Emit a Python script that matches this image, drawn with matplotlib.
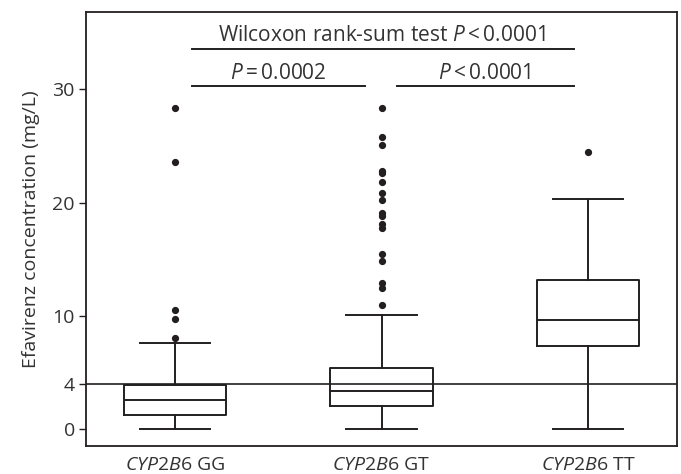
import matplotlib
matplotlib.use("Agg")
import matplotlib.pyplot as plt

plt.rcParams['font.family'] = ['Open Sans', 'DejaVu Sans']
plt.rcParams['mathtext.fontset'] = 'custom'
plt.rcParams['mathtext.rm'] = 'Open Sans'
plt.rcParams['mathtext.it'] = 'Open Sans:italic'

# Data (mg/L)
groups = ['GG', 'GT', 'TT']
q1 = [1.3, 2.07, 7.37]
medians = [2.6, 3.4, 9.6]
q3 = [3.95, 5.4, 13.2]
whis_lo = [0.0, 0.0, 0.05]
whis_hi = [7.57, 10.1, 20.35]
fliers_gg = [28.3, 23.6, 10.55, 9.7, 8.07]
fliers_gt = [28.3, 25.8, 25.1, 22.8, 22.6, 21.8, 20.8, 20.2, 19.1, 18.8,
             18.1, 17.75, 15.5, 14.8, 12.9, 12.5, 11.0]
fliers_tt = [24.45]
fliers = [fliers_gg, fliers_gt, fliers_tt]
threshold = 4
yticks = [0, 4, 10, 20, 30]

ink = '#231f20'
txt = '#333333'

fig = plt.figure(figsize=(6.81, 4.74), dpi=100)
ax = fig.add_axes([86/681, 28/474, 591/681, 434/474])

stats = []
for i, g in enumerate(groups):
    stats.append(dict(med=medians[i], q1=q1[i], q3=q3[i],
                      whislo=whis_lo[i], whishi=whis_hi[i],
                      fliers=fliers[i], label=g))

lw = 1.4
ax.axhline(threshold, color=ink, lw=1.2, zorder=1)
ax.bxp(stats, positions=[0, 1, 2], widths=0.495, capwidths=0.34,
       boxprops=dict(color=ink, lw=lw),
       medianprops=dict(color=ink, lw=lw),
       whiskerprops=dict(color=ink, lw=lw),
       capprops=dict(color=ink, lw=lw),
       flierprops=dict(marker='o', markerfacecolor=ink, markeredgecolor=ink,
                       markersize=4.2, linestyle='none'),
       zorder=2)

ax.set_xlim(-0.43, 2.43)
ax.set_ylim(-1.47, 36.8)
ax.set_yticks(yticks)
ax.set_yticklabels([str(t) for t in yticks], fontsize=14, color=txt)
ax.set_xticks([0, 1, 2])
ax.set_xticklabels([r'$\it{CYP2B6}$ ' + g for g in groups], fontsize=14, color=txt)
ax.tick_params(axis='x', length=0, pad=7)
ax.tick_params(axis='y', length=5, width=1.0, color=ink, pad=3)
ax.set_ylabel('Efavirenz concentration (mg/L)', fontsize=14, color=txt, labelpad=9)
for s in ax.spines.values():
    s.set_color(ink)
    s.set_linewidth(1.3)

# significance annotations
ax.plot([0.082, 1.932], [33.5, 33.5], color=ink, lw=lw)
ax.plot([0.082, 0.92], [30.3, 30.3], color=ink, lw=lw)
ax.plot([1.074, 1.932], [30.3, 30.3], color=ink, lw=lw)
ax.text(1.0, 34.2, r'Wilcoxon rank-sum test $\it{P}$' + '\u2009<\u20090.0001',
        ha='center', va='baseline', fontsize=15, color=txt)
ax.text(0.5, 30.9, r'$\it{P}$' + '\u2009=\u20090.0002',
        ha='center', va='baseline', fontsize=15, color=txt)
ax.text(1.5, 30.9, r'$\it{P}$' + '\u2009<\u20090.0001',
        ha='center', va='baseline', fontsize=15, color=txt)

fig.savefig('out.png', dpi=100)
